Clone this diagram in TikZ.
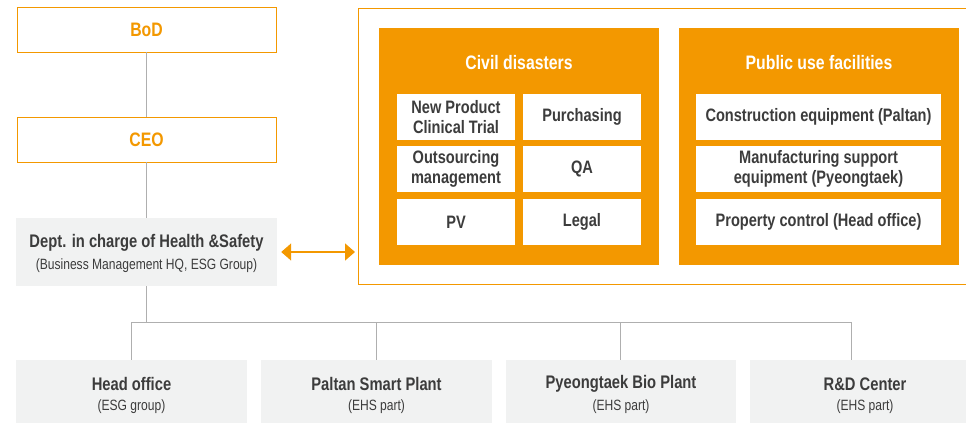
\documentclass[tikz,border=0pt]{standalone}
\usepackage{fontspec}
\setmainfont{Liberation Sans}[FakeStretch=0.81]
\usetikzlibrary{arrows.meta}
\definecolor{org}{RGB}{243,152,0}
\definecolor{txt}{RGB}{60,60,60}
\definecolor{lgrey}{RGB}{241,242,242}
\definecolor{lin}{RGB}{175,175,175}
\begin{document}
\begin{tikzpicture}[x=1pt,y=-1pt,
  outbox/.style={draw=org, line width=0.9pt, fill=white, text=org, inner sep=0pt,
    font=\bfseries\fontsize{19.5}{20}\selectfont},
  greybox/.style={fill=lgrey, text=txt, inner sep=0pt, align=center},
  orgbox/.style={fill=org, inner sep=0pt},
  whitebox/.style={fill=white, text=txt, inner sep=0pt, align=center,
    font=\bfseries\fontsize{18}{20}\selectfont},
  titletxt/.style={text=white, font=\bfseries\fontsize{19.5}{22}\selectfont},
  conn/.style={draw=lin, line width=0.9pt},
  dbl/.style={draw=org, line width=1.6pt, {Triangle[length=10pt,width=17pt]}-{Triangle[length=10pt,width=17pt]}},
  bigt/.style={font=\bfseries\fontsize{18.2}{20}\selectfont},
  smallt/.style={font=\fontsize{14.9}{17}\selectfont}
]
\useasboundingbox (0,0) rectangle (966,423);
\clip (0,0) rectangle (966,423);
% left column
\node[outbox, minimum width=259pt, minimum height=45pt] (bod) at (146.5,29.5) {BoD};
\node[outbox, minimum width=259pt, minimum height=45pt] (ceo) at (146.5,139.5) {CEO};
\node[greybox, minimum width=261pt, minimum height=68pt] (dept) at (146.5,252) {};
\node[text=txt, bigt] (deptt) at (146.5,243) {Dept. in charge of Health \&Safety};
\node[text=txt, smallt] (depts) at (146.5,266) {(Business Management HQ, ESG Group)};
\draw[conn] (bod.south) -- (ceo.north);
\draw[conn] (ceo.south) -- (dept.north);
% frame
\node[draw=org, line width=0.9pt, inner sep=0pt, minimum width=620pt, minimum height=276pt, anchor=north west] (frame) at (358,8) {};
\draw[dbl] ([xshift=4pt]dept.east) -- ([xshift=-3pt]dept.east -| frame.west);
% civil disasters
\node[orgbox, minimum width=280pt, minimum height=237pt] (civ) at (519,146.5) {};
\node[titletxt] (civt) at (519,63) {Civil disasters};
\node[whitebox, minimum width=118pt, minimum height=46pt] (npc) at (456,117) {New Product\\Clinical Trial};
\node[whitebox, minimum width=118pt, minimum height=46pt] (pur) at (582,117) {Purchasing};
\node[whitebox, minimum width=118pt, minimum height=46pt] (out) at (456,169) {Outsourcing\\management};
\node[whitebox, minimum width=118pt, minimum height=46pt] (qa) at (582,169) {QA};
\node[whitebox, minimum width=118pt, minimum height=46pt] (pv) at (456,222) {PV};
\node[whitebox, minimum width=118pt, minimum height=46pt] (leg) at (582,222) {Legal};
% public use facilities
\node[orgbox, minimum width=280pt, minimum height=237pt] (pub) at (819,146.5) {};
\node[titletxt] (pubt) at (819,63) {Public use facilities};
\node[whitebox, minimum width=245pt, minimum height=46pt] (con) at (818.5,117) {Construction equipment (Paltan)};
\node[whitebox, minimum width=245pt, minimum height=46pt] (man) at (818.5,169) {Manufacturing support\\equipment (Pyeongtaek)};
\node[whitebox, minimum width=245pt, minimum height=46pt] (pro) at (818.5,222) {Property control (Head office)};
% bottom row
\node[greybox, minimum width=231pt, minimum height=63pt] (ho) at (131.5,391.5) {};
\node[greybox, minimum width=231pt, minimum height=63pt] (pal) at (376.5,391.5) {};
\node[greybox, minimum width=230pt, minimum height=63pt] (pye) at (621,391.5) {};
\node[greybox, minimum width=230pt, minimum height=63pt] (rd) at (865,391.5) {};
\node[text=txt, bigt] (hot) at (131.5,384) {Head office};
\node[text=txt, smallt] (hos) at (131.5,407) {(ESG group)};
\node[text=txt, bigt] (palt) at (376.5,384) {Paltan Smart Plant};
\node[text=txt, smallt] (pals) at (376.5,407) {(EHS part)};
\node[text=txt, bigt] (pyet) at (621,384) {Pyeongtaek Bio Plant};
\node[text=txt, smallt] (pyes) at (621,407) {(EHS part)};
\node[text=txt, bigt] (rdt) at (865,384) {R\&D Center};
\node[text=txt, smallt] (rds) at (865,407) {(EHS part)};
% bus
\coordinate (b1) at (131,322);
\coordinate (b2) at (376,322);
\coordinate (b3) at (620,322);
\coordinate (b4) at (851,322);
\draw[conn] (dept.south) -- (dept.south |- b1);
\draw[conn] (b1) -- (b4);
\draw[conn] (b1) -- (b1 |- ho.north);
\draw[conn] (b2) -- (b2 |- pal.north);
\draw[conn] (b3) -- (b3 |- pye.north);
\draw[conn] (b4) -- (b4 |- rd.north);
\end{tikzpicture}
\end{document}
